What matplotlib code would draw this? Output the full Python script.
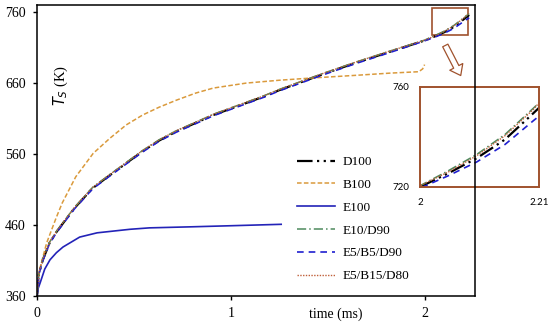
import matplotlib
matplotlib.use("Agg")
import matplotlib.pyplot as plt
from matplotlib.patches import Rectangle

# time (ms) for the diesel-like fuels
t_d = [0, 0.01, 0.03, 0.065, 0.1, 0.13, 0.194, 0.287, 0.375, 0.46, 0.545, 0.63, 0.72,
       0.82, 0.91, 1.0, 1.08, 1.17, 1.25, 1.35, 1.48, 1.65, 1.82, 2.0, 2.05, 2.1, 2.15,
       2.2, 2.23]
d100 = [360, 392, 411, 435, 450, 461, 484, 512, 530, 547, 564, 579, 592, 604, 615, 624,
        632, 641, 650, 660, 673, 689, 704, 720, 725.5, 731.5, 739, 749.5, 756]
e10_d90 = [360, 392, 412, 436, 451, 462, 485, 513, 531, 548, 565, 580, 593, 605, 616, 625,
           633, 642, 651, 661, 674, 690, 705, 720.5, 726.5, 733, 741, 751.5, 758]
e5_b5_d90 = [360, 391, 410, 434, 449, 460, 483, 511, 529, 546, 563, 578, 591, 603, 614, 623,
             631, 640, 649, 659, 672, 688, 703, 719.5, 724.5, 730, 737, 746.5, 752]
e5_b15_d80 = [360, 393, 412, 436, 451, 462, 485, 513, 531, 548, 565, 580, 593, 605, 616, 625,
              633, 642, 651, 661, 674, 690, 705, 720.5, 726, 732.5, 740.5, 751, 759]

t_b = [0, 0.013, 0.05, 0.1, 0.13, 0.2, 0.29, 0.375, 0.46, 0.545, 0.63, 0.72, 0.82, 0.91,
       1.08, 1.25, 1.41, 1.65, 1.82, 1.97, 1.99, 2.0]
b100 = [360, 397, 435, 471, 491, 528, 561, 582, 601, 615, 626, 636, 646, 653, 660, 664,
        667, 671, 674, 676, 680, 686]

t_e = [0, 0.005, 0.0155, 0.04, 0.067, 0.1, 0.134, 0.22, 0.31, 0.48, 0.58, 0.8, 1.0, 1.26]
e100 = [360, 370, 378, 398, 411, 421, 429, 443, 449, 454, 456, 457.5, 459, 461]

x_ticks = [0, 1, 2]
y_ticks = [360, 460, 560, 660, 760]

brown = '#A0522D'
serif = 'Liberation Serif'

series = [
    (t_d, d100, 'D100', dict(color='black', lw=1.6, dashes=(7, 2, 1, 2, 1, 2))),
    (t_b, b100, 'B100', dict(color='#DA9A3C', lw=1.1, dashes=(3, 1.5))),
    (t_e, e100, 'E100', dict(color='#2323B8', lw=1.2, ls='-')),
    (t_d, e10_d90, 'E10/D90', dict(color='#4E8A5E', lw=1.1, dashes=(6, 2, 1, 2))),
    (t_d, e5_b5_d90, 'E5/B5/D90', dict(color='#1F1FD0', lw=1.2, dashes=(4, 3))),
    (t_d, e5_b15_d80, 'E5/B15/D80', dict(color='#C0603A', lw=1.0, dashes=(1, 1))),
]

fig = plt.figure(figsize=(5.5, 3.23), dpi=100)
ax = fig.add_axes([0.0673, 0.0836, 0.7963, 0.9009])
for x, y, lab, kw in series:
    ax.plot(x, y, label=lab, **kw)

ax.set_xlim(0, 2.26)
ax.set_ylim(360, 770)
ax.set_xticks(x_ticks)
ax.set_yticks(y_ticks)
ax.tick_params(direction='out', length=3, width=1, pad=5, labelsize=10)
for lbl in ax.get_xticklabels() + ax.get_yticklabels():
    lbl.set_fontfamily(serif)
for s in ax.spines.values():
    s.set_linewidth(1.1)

ax.text(0.055, 0.725, r'$T_S$ (K)', transform=ax.transAxes, rotation=90,
        fontsize=10.5, family=serif, ha='center', va='center')
fig.text(0.61, 0.028, 'time (ms)', fontsize=10, family=serif, ha='center', va='center')

ax.legend(loc='upper left', bbox_to_anchor=(0.54, 0.517), bbox_transform=fig.transFigure,
          frameon=False, borderpad=0, borderaxespad=0, handlelength=2.9, handletextpad=0.55,
          labelspacing=0.8, prop={'family': serif, 'size': 9.5})

# zoom box and arrow
ax.add_patch(Rectangle((2.04, 727.6), 0.186, 38, fill=False, ec=brown, lw=1.2))
ax.annotate('', xy=(462, 245), xytext=(444, 280), xycoords='figure pixels',
            arrowprops=dict(arrowstyle='simple,head_length=0.5,head_width=0.75,tail_width=0.3',
                            fc='white', ec=brown, lw=0.9, mutation_scale=14))

# inset
ins = fig.add_axes([0.7636, 0.4211, 0.2164, 0.3096])
for x, y, lab, kw in series:
    ins.plot(x, y, **kw)
ins.set_xlim(2, 2.21)
ins.set_ylim(720, 760)
ins.set_xticks([2, 2.21])
ins.set_xticklabels(['2', '2.21'])
ins.set_yticks([720, 760])
ins.tick_params(length=0, pad=8, labelsize=7)
for lbl in ins.get_xticklabels() + ins.get_yticklabels():
    lbl.set_fontfamily('Lato')
for s in ins.spines.values():
    s.set_color(brown)
    s.set_linewidth(1.4)

ax.set_zorder(2)
ax.patch.set_visible(False)
ins.set_zorder(1)

fig.savefig('out.png', dpi=100)
